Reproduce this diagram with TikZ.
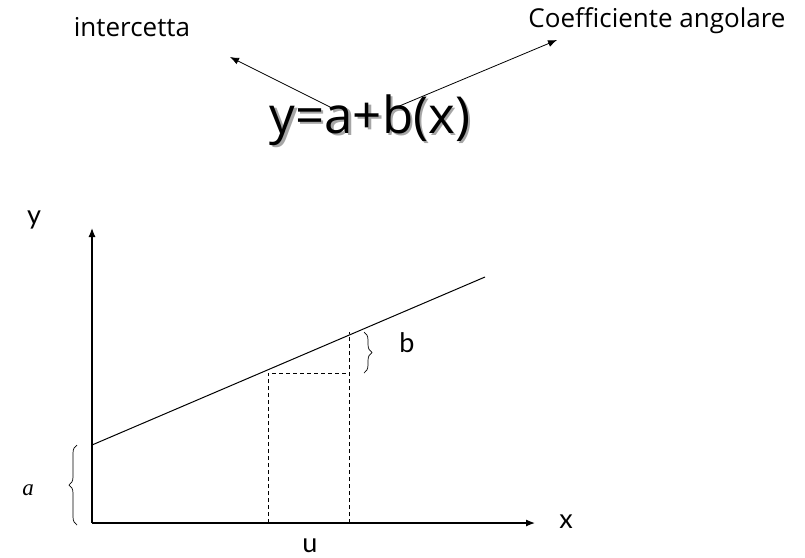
\documentclass[tikz,border=0pt]{standalone}
\usepackage{fontspec}
\setmainfont{Lato}
\newfontfamily\comicfont{Open Sans}
\newfontfamily\serifit{Liberation Serif}
\usetikzlibrary{positioning,arrows.meta,decorations.pathreplacing}
\newcommand{\shadowed}[1]{\makebox[0pt][l]{\raisebox{-2pt}{\hspace{2.5pt}\textcolor{black!35}{#1}}}#1}

\begin{document}
\begin{tikzpicture}[x=1pt,y=-1pt,>={Latex[length=9pt,width=7pt]},
  lbl/.style={font=\comicfont\fontsize{26}{30}\selectfont,inner sep=0pt},
  eqn/.style={font=\comicfont\fontsize{51}{56}\selectfont,inner sep=0pt},
  axlbl/.style={font=\fontsize{27}{30}\selectfont,inner sep=0pt},
  axis/.style={line width=1.2pt,->},
  pointer/.style={line width=0.8pt,->},
  guide/.style={dashed,line width=0.8pt,dash pattern=on 4pt off 3pt},
  bracket/.style={decorate,decoration={brace,amplitude=8pt},line width=0.7pt}]
  \useasboundingbox (0,0) rectangle (805,557);
  % formula and its two labels
  \node[lbl] (icpt) at (132,27) {intercetta};
  \node[lbl] (coef) at (657,21) {Coefficiente angolare};
  \node[eqn] (eq) at (370,121) {\shadowed{y=a+b(x)}};
  \coordinate (eqa) at (332,108); \coordinate (icptend) at (230,57);
  \coordinate (eqb) at (397,107); \coordinate (coefend) at (557,40);
  \draw[pointer] (eqa)--(icptend);
  \draw[pointer] (eqb)--(coefend);
  % axes
  \coordinate (O) at (92,523);
  \coordinate (ytip) at (92,228);
  \coordinate (xtip) at (535,523);
  \draw[axis] (O)--(ytip);
  \draw[axis] (O)--(xtip);
  \node[axlbl] (ylab) at (34,220) {y};
  \node[axlbl] (xlab) at (566,522) {x};
  % regression line
  \coordinate (a0) at (92,445);
  \coordinate (lend) at (485,277);
  \draw[line width=1pt] (a0)--(lend);
  % unit step
  \coordinate (u0) at (268,523); \coordinate (u0top) at (268,373);
  \coordinate (u1) at (349,523); \coordinate (u1top) at (349,332);
  \coordinate (u1mid) at (349,373);
  \draw[guide] (u0)--(u0top)--(u1mid);
  \draw[guide] (u1)--(u1top);
  \node[axlbl] (ulab) at (310,546) {u};
  % braces
  \coordinate (bb1) at (364,332); \coordinate (bb2) at (364,373);
  \draw[bracket] (bb1)--(bb2);
  \node[axlbl] (blab) at (407,343) {b};
  \coordinate (ab1) at (77,525); \coordinate (ab2) at (77,445);
  \draw[bracket] (ab1)--(ab2);
  \node[font=\serifit\itshape\fontsize{23}{25}\selectfont,inner sep=0pt] (alab) at (28,490) {a};
\end{tikzpicture}
\end{document}
